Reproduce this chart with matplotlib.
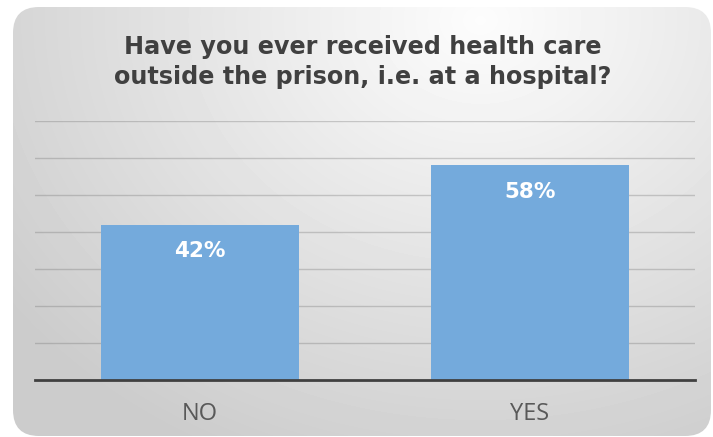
import numpy as np
import matplotlib
matplotlib.use("Agg")
import matplotlib.pyplot as plt
from matplotlib.patches import FancyBboxPatch

categories = ['NO', 'YES']
values = [42, 58]
labels = ['42%', '58%']
title = 'Have you ever received health care\noutside the prison, i.e. at a hospital?'

W, H = 713, 437
fig = plt.figure(figsize=(W / 100, H / 100), dpi=100)
fig.patch.set_facecolor('white')

# rounded panel with soft radial gradient
bg = fig.add_axes([0, 0, 1, 1])
bg.set_xlim(0, W)
bg.set_ylim(H, 0)
bg.axis('off')
yy, xx = np.mgrid[0:H, 0:W]
d = np.hypot((xx - 480) / 520.0, (yy - 20) / 430.0)
shade = np.clip(0.99 - 0.17 * d, 0.80, 0.99)
img = bg.imshow(shade, cmap='gray', vmin=0, vmax=1, extent=(0, W, H, 0),
                interpolation='bilinear')
panel = FancyBboxPatch((13, 7), 698, 429, boxstyle='round,pad=0,rounding_size=26',
                       facecolor='none', edgecolor='none')
bg.add_patch(panel)
img.set_clip_path(panel)

ax = fig.add_axes([35 / W, 57 / H, 660 / W, 259 / H])
ax.set_facecolor('none')
x = np.arange(len(categories))
bars = ax.bar(x, values, width=0.6, color='#74aadc', zorder=2)
ax.set_xlim(-0.5, 1.5)
ax.set_ylim(0, 70)
ax.set_yticks(np.arange(10, 71, 10))
ax.yaxis.grid(True, color='#707070', alpha=0.32, linewidth=1.0, zorder=1)
ax.set_axisbelow(True)
ax.tick_params(axis='y', left=False, labelleft=False)
ax.tick_params(axis='x', bottom=False, pad=12)
ax.set_xticks(x)
ax.set_xticklabels(categories, fontsize=17, color='#595959', family='Open Sans')
for s in ['top', 'left', 'right']:
    ax.spines[s].set_visible(False)
ax.spines['bottom'].set_color('#404040')
ax.spines['bottom'].set_linewidth(2)
ax.spines['bottom'].set_zorder(3)

for b, lab in zip(bars, labels):
    ax.annotate(lab, (b.get_x() + b.get_width() / 2, b.get_height()),
                xytext=(0, -19), textcoords='offset points', ha='center', va='center',
                color='white', fontsize=15.5, fontweight='bold', family='DejaVu Sans', zorder=4)

fig.text(363 / W, 1 - 62 / H, title, ha='center', va='center', fontsize=17.2,
         fontweight='bold', color='#404040', family='DejaVu Sans', linespacing=1.35)

fig.savefig('out.png', dpi=100)
plt.close(fig)
